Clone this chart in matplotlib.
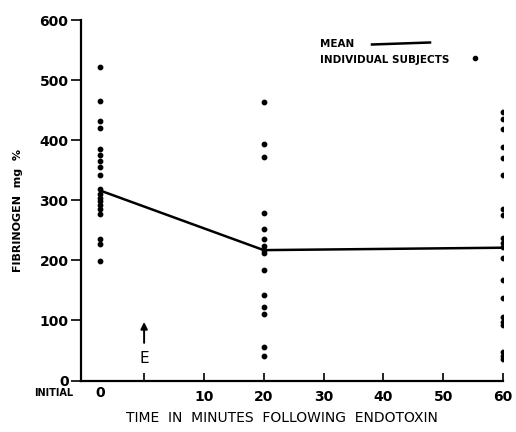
import matplotlib
matplotlib.use("Agg")
import matplotlib.pyplot as plt

# --- data ---
x_initial = -7.3          # plotted position of the "initial" (0) sample
times = [20, 60]
initial_vals = [522, 466, 432, 420, 386, 376, 366, 355, 342, 318, 310, 304,
                298, 292, 286, 277, 235, 228, 199]
t20_vals = [464, 394, 372, 278, 252, 235, 224, 218, 212, 184, 142, 123, 110, 56, 40]
t60_vals = [447, 435, 418, 389, 371, 342, 285, 275, 238, 229, 222, 204, 168,
            138, 106, 98, 92, 48, 40, 35]
mean_x = [x_initial, 20, 60]
mean_vals = [316, 217, 221]
xtick_pos = [0, 10, 20, 30, 40, 50, 60]
xtick_labels = ["", "10", "20", "30", "40", "50", "60"]
ytick_pos = [0, 100, 200, 300, 400, 500, 600]
ytick_labels = ["0", "100", "200", "300", "400", "500", "600"]

plt.rcParams['font.family'] = ['DejaVu Sans']
fig = plt.figure(figsize=(5.16, 4.32), dpi=100)
ax = fig.add_axes([81/516, 1 - 380.5/432, (503-81)/516, (380.5-20)/432])

ax.plot(mean_x, mean_vals, color='black', lw=1.8, zorder=2)
ms = 10
ax.scatter([x_initial]*len(initial_vals), initial_vals, s=ms, color='black', zorder=3)
ax.scatter([times[0]]*len(t20_vals), t20_vals, s=ms, color='black', zorder=3)
ax.scatter([times[1]]*len(t60_vals), t60_vals, s=ms, color='black', zorder=3)

ax.set_xlim(-10.55, 59.9)
ax.set_ylim(0, 600)
for s in ['top', 'right']:
    ax.spines[s].set_visible(False)
for s in ['left', 'bottom']:
    ax.spines[s].set_linewidth(1.6)

ax.set_xticks(xtick_pos)
ax.set_xticklabels(xtick_labels, fontsize=10, fontweight='bold')
ax.tick_params(axis='x', direction='in', length=6, width=1.2, pad=7)
ax.set_yticks(ytick_pos)
ax.set_yticklabels(ytick_labels, fontsize=10, fontweight='bold')
ax.tick_params(axis='y', direction='out', length=7, width=1.2, pad=2)

# extra x labels
ax.text(x_initial, -20, "0", ha='center', va='center', fontsize=10,
        fontweight='bold', clip_on=False)
fig.text(54/516, 1 - 393/432, "INITIAL", ha='center', va='center',
         fontsize=7, fontweight='bold')

# axis titles
fig.text(282/516, 1 - 418/432, "TIME  IN  MINUTES  FOLLOWING  ENDOTOXIN",
         ha='center', va='center', fontsize=10)
fig.text(18/516, 1 - 210/432, "FIBRINOGEN  mg  %", ha='center', va='center',
         rotation=90, fontsize=8, fontweight='bold')

# endotoxin arrow
ax.annotate("", xy=(0, 102), xytext=(0, 58),
            arrowprops=dict(arrowstyle='-|>', color='black', lw=1.4,
                            mutation_scale=10))
ax.text(0, 36, "E", ha='center', va='center', fontsize=11)

# legend
fig.text(320/516, 1 - 44/432, "MEAN", ha='left', va='center', fontsize=7.5,
         fontweight='bold')
fig.add_artist(plt.Line2D([372/516, 430/516], [1 - 44.5/432, 1 - 42.5/432],
                          color='black', lw=1.8))
fig.text(320/516, 1 - 60/432, "INDIVIDUAL SUBJECTS", ha='left', va='center',
         fontsize=7.5, fontweight='bold')
fig.add_artist(plt.Line2D([475/516], [1 - 58/432], marker='o', markersize=3,
                          color='black', lw=0))

fig.savefig("out.png", dpi=100)
